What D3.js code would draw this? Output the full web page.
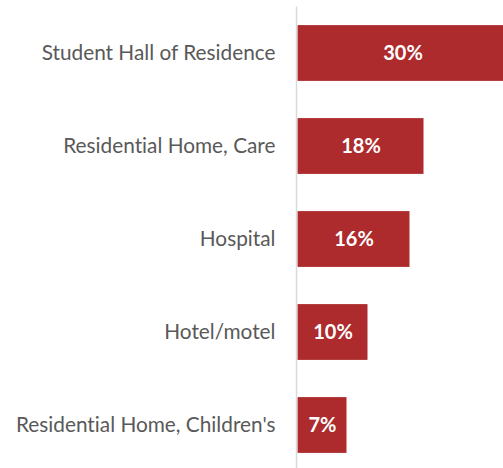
<!DOCTYPE html>
<html>
<head>
<meta charset="utf-8">
<script src="https://cdn.jsdelivr.net/npm/d3@7"></script>
<style>
  html, body { margin: 0; padding: 0; background: #fff; }
  svg { display: block; }
  text { font-variant-ligatures: none; font-feature-settings: "liga" 0, "clig" 0; }
</style>
</head>
<body>
<svg id="chart" width="503" height="468"></svg>
<script>
// Share of incidents by premises type
const categories = [
  "Student Hall of Residence",
  "Residential Home, Care",
  "Hospital",
  "Hotel/motel",
  "Residential Home, Children's"
];
const values = [30, 18, 16, 10, 7];

const width = 503, height = 468;
const axisX = 297.5;
const fontFamily = "Lato, 'Open Sans', sans-serif";

const svg = d3.select("#chart");

const x = d3.scaleLinear().domain([0, 1]).range([axisX, axisX + 700]);
const y = d3.scaleBand()
  .domain(categories)
  .range([6.5, 471.5])
  .paddingInner(0.4)
  .paddingOuter(0.2);

const data = categories.map((c, i) => ({ cat: c, val: values[i] }));

// bars
svg.append("g")
  .selectAll("rect")
  .data(data)
  .join("rect")
  .attr("x", x(0))
  .attr("y", d => y(d.cat))
  .attr("width", d => x(d.val / 100) - x(0))
  .attr("height", y.bandwidth())
  .attr("fill", "#ad2a2d");

// value labels, centred in each bar
svg.append("g")
  .selectAll("text")
  .data(data)
  .join("text")
  .attr("x", d => (x(0) + Math.min(x(d.val / 100), x(0.30))) / 2 + 0.5)
  .attr("y", d => y(d.cat) + y.bandwidth() / 2)
  .attr("dy", "0.35em")
  .attr("text-anchor", "middle")
  .attr("fill", "#ffffff")
  .style("font-family", fontFamily)
  .style("font-weight", "bold")
  .style("font-size", "20px")
  .text(d => d.val + "%");

// category axis
const yAxis = d3.axisLeft(y).tickSize(0).tickPadding(22);
const gAxis = svg.append("g")
  .attr("transform", `translate(${axisX},0)`)
  .call(yAxis);
gAxis.select(".domain").remove();
gAxis.selectAll("text")
  .attr("fill", "#595959")
  .attr("dy", "0.35em")
  .style("font-family", fontFamily)
  .style("font-size", "20.8px");

// vertical axis line
svg.append("line")
  .attr("x1", axisX - 1)
  .attr("x2", axisX - 1)
  .attr("y1", 6.5)
  .attr("y2", height)
  .attr("stroke", "#d9d9d9")
  .attr("stroke-width", 1.5);
</script>
</body>
</html>
